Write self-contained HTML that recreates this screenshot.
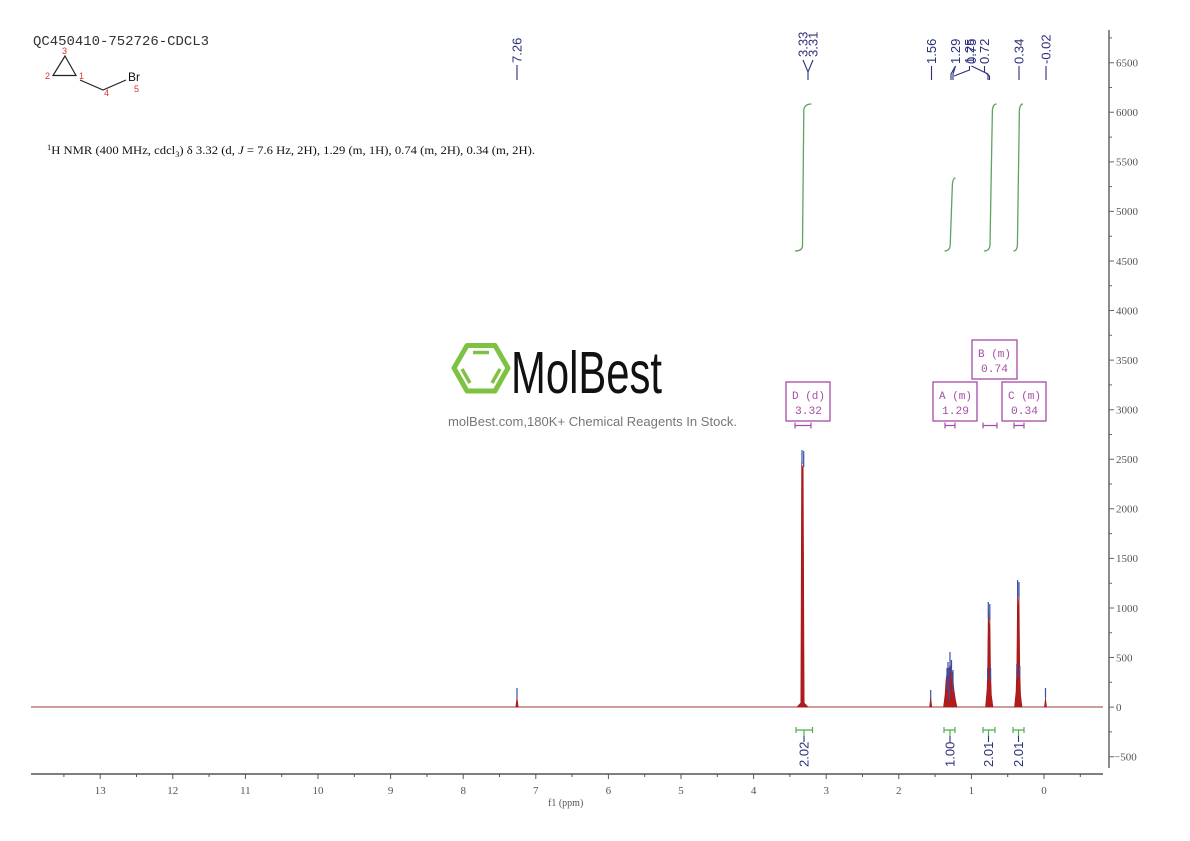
<!DOCTYPE html>
<html><head><meta charset="utf-8"><style>
html,body{margin:0;padding:0;background:#fff;}
svg{display:block;}
</style></head><body>
<svg width="1190" height="841" viewBox="0 0 1190 841" xmlns="http://www.w3.org/2000/svg">
<rect width="1190" height="841" fill="#fff"/>
<!-- title -->
<text x="33" y="45" font-family="Liberation Mono, monospace" font-size="14" fill="#333" textLength="176" lengthAdjust="spacingAndGlyphs">QC450410-752726-CDCL3</text>
<!-- structure -->
<g stroke="#222" stroke-width="1.2" fill="none">
<path d="M65,56 L53,75.5 L76,75.5 Z"/>
<path d="M80,80 L103,90 L126,80"/>
</g>
<g font-family="Liberation Sans, sans-serif" font-size="9" fill="#d33">
<text x="62" y="54">3</text><text x="45" y="79">2</text><text x="79" y="79">1</text><text x="104" y="96">4</text><text x="134" y="92">5</text>
</g>
<text x="128" y="81" font-family="Liberation Sans, sans-serif" font-size="12" fill="#111">Br</text>
<!-- NMR description -->
<text x="47" y="154" font-family="Liberation Serif, serif" font-size="12" fill="#111" textLength="488" lengthAdjust="spacingAndGlyphs"><tspan font-size="8" dy="-4">1</tspan><tspan dy="4">H NMR (400 MHz, cdcl</tspan><tspan font-size="8" dy="3">3</tspan><tspan dy="-3">) δ 3.32 (d, </tspan><tspan font-style="italic">J</tspan><tspan> = 7.6 Hz, 2H), 1.29 (m, 1H), 0.74 (m, 2H), 0.34 (m, 2H).</tspan></text>

<!-- logo -->
<g fill="none" stroke="#7dc242" stroke-linejoin="round">
<path d="M454,368 L467,345.5 L495,345.5 L508,368 L495,391 L467,391 Z" stroke-width="5"/>
<path d="M473,352.5 L489,352.5" stroke-width="3.5"/>
<path d="M462,369 L470,383" stroke-width="3.5"/>
<path d="M500,369 L492,383" stroke-width="3.5"/>
</g>
<text x="511" y="393" font-family="Liberation Sans, sans-serif" font-size="59" fill="#111" textLength="151" lengthAdjust="spacingAndGlyphs">MolBest</text>
<text x="448" y="426" font-family="Liberation Sans, sans-serif" font-size="12.5" fill="#777" textLength="289" lengthAdjust="spacingAndGlyphs">molBest.com,180K+ Chemical Reagents In Stock.</text>

<!-- multiplet boxes -->
<g fill="#fff" stroke="#a64ca6" stroke-width="1.3">
<rect x="786" y="382" width="44" height="39"/>
<rect x="933" y="382" width="44" height="39"/>
<rect x="972" y="340" width="45" height="39"/>
<rect x="1002" y="382" width="44" height="39"/>
</g>
<g font-family="Liberation Mono, monospace" font-size="11" fill="#a64ca6">
<text x="792" y="399" textLength="33" lengthAdjust="spacingAndGlyphs">D (d)</text>
<text x="795" y="414" textLength="27" lengthAdjust="spacingAndGlyphs">3.32</text>
<text x="939" y="399" textLength="33" lengthAdjust="spacingAndGlyphs">A (m)</text>
<text x="942" y="414" textLength="27" lengthAdjust="spacingAndGlyphs">1.29</text>
<text x="978" y="357" textLength="33" lengthAdjust="spacingAndGlyphs">B (m)</text>
<text x="981" y="372" textLength="27" lengthAdjust="spacingAndGlyphs">0.74</text>
<text x="1008" y="399" textLength="33" lengthAdjust="spacingAndGlyphs">C (m)</text>
<text x="1011" y="414" textLength="27" lengthAdjust="spacingAndGlyphs">0.34</text>
</g>
<g stroke="#a64ca6" stroke-width="1.2" fill="none">
<path d="M795,425.5 H811 M795,422.5 V428.5 M811,422.5 V428.5"/>
<path d="M945,425.5 H955 M945,422.5 V428.5 M955,422.5 V428.5"/>
<path d="M983,425.5 H997 M983,422.5 V428.5 M997,422.5 V428.5"/>
<path d="M1014,425.5 H1024 M1014,422.5 V428.5 M1024,422.5 V428.5"/>
</g>

<!-- integral curves -->
<g stroke="#5fa35f" stroke-width="1.3" fill="none">
<path d="M795,251 Q802,251 802.5,246 L803.8,110 Q804.5,104 811.5,104"/>
<path d="M944.5,251 Q949.8,251 950.2,245 L952.4,184 Q953,178 955.5,178"/>
<path d="M984,251 Q989.5,251 990,245 L992.4,110 Q993,104 996.5,104"/>
<path d="M1013.5,251 Q1017,251 1017.4,245 L1019.4,110 Q1020,104 1023,104"/>
</g>

<!-- top peak labels -->
<g font-family="Liberation Sans, sans-serif" font-size="13" fill="#2b2f7a">
<text transform="translate(521.5,63) rotate(-90)">7.26</text>
<text transform="translate(807.5,57) rotate(-90)">3.33</text>
<text transform="translate(817.5,57) rotate(-90)">3.31</text>
<text transform="translate(936,64) rotate(-90)">1.56</text>
<text transform="translate(960,64) rotate(-90)">1.29</text>
<text transform="translate(974,64) rotate(-90)">1.25</text>
<text transform="translate(976,64) rotate(-90)">0.75</text>
<text transform="translate(989,64) rotate(-90)">0.72</text>
<text transform="translate(1023.5,64) rotate(-90)">0.34</text>
<text transform="translate(1050.5,64) rotate(-90)">-0.02</text>
</g>
<g stroke="#2b2f7a" stroke-width="1.1" fill="none">
<path d="M517,65 V80"/>
<path d="M803,60 L808,72 L813,60 M808,72 V80"/>
<path d="M931.5,66 V80"/>
<path d="M955.5,66 L951,74 V80 M955.5,66 L953,74 V80"/>
<path d="M969.5,66 L969.5,70 L954,76 M971.5,66 L988,74 V80 M984.5,66 L984.5,72 L989.5,76 V80"/>
<path d="M1019,66 V80"/>
<path d="M1046,66 V80"/>
</g>

<!-- right axis -->
<g stroke="#666" stroke-width="1.5" fill="none">
<path d="M1109,30 V768"/>
</g>
<g stroke="#666" stroke-width="1">
<path d="M1109,37.9 h3 M1109,87.5 h3 M1109,137.1 h3 M1109,186.6 h3 M1109,236.2 h3 M1109,285.8 h3 M1109,335.3 h3 M1109,384.9 h3 M1109,434.5 h3 M1109,484 h3 M1109,533.6 h3 M1109,583.2 h3 M1109,632.7 h3 M1109,682.3 h3 M1109,731.9 h3"/>
<path d="M1109,62.7 h5 M1109,112.3 h5 M1109,161.9 h5 M1109,211.4 h5 M1109,261 h5 M1109,310.5 h5 M1109,360.1 h5 M1109,409.7 h5 M1109,459.3 h5 M1109,508.8 h5 M1109,558.4 h5 M1109,608 h5 M1109,657.5 h5 M1109,707.1 h5 M1109,756.7 h5"/>
</g>
<g font-family="Liberation Serif, serif" font-size="11" fill="#555">
<text x="1116" y="66.5">6500</text>
<text x="1116" y="116">6000</text>
<text x="1116" y="165.6">5500</text>
<text x="1116" y="215.2">5000</text>
<text x="1116" y="264.8">4500</text>
<text x="1116" y="314.3">4000</text>
<text x="1116" y="363.9">3500</text>
<text x="1116" y="413.5">3000</text>
<text x="1116" y="463">2500</text>
<text x="1116" y="512.6">2000</text>
<text x="1116" y="562.2">1500</text>
<text x="1116" y="611.8">1000</text>
<text x="1116" y="661.3">500</text>
<text x="1116" y="710.9">0</text>
<text x="1114" y="760.5">−500</text>
</g>

<!-- bottom axis -->
<path d="M31,774 H1103" stroke="#555" stroke-width="1.5"/>
<g stroke="#555" stroke-width="1">
<path d="M1044,774 v5 M971.4,774 v5 M898.8,774 v5 M826.2,774 v5 M753.6,774 v5 M681,774 v5 M608.4,774 v5 M535.8,774 v5 M463.2,774 v5 M390.6,774 v5 M318,774 v5 M245.4,774 v5 M172.8,774 v5 M100.2,774 v5"/>
<path d="M1080.3,774 v3 M1007.7,774 v3 M935.1,774 v3 M862.5,774 v3 M789.9,774 v3 M717.3,774 v3 M644.7,774 v3 M572.1,774 v3 M499.5,774 v3 M426.9,774 v3 M354.3,774 v3 M281.7,774 v3 M209.1,774 v3 M136.5,774 v3 M63.9,774 v3"/>
</g>
<g font-family="Liberation Serif, serif" font-size="11" fill="#555" text-anchor="middle">
<text x="1044" y="794">0</text><text x="971.4" y="794">1</text><text x="898.8" y="794">2</text><text x="826.2" y="794">3</text>
<text x="753.6" y="794">4</text><text x="681" y="794">5</text><text x="608.4" y="794">6</text><text x="535.8" y="794">7</text>
<text x="463.2" y="794">8</text><text x="390.6" y="794">9</text><text x="318" y="794">10</text><text x="245.4" y="794">11</text>
<text x="172.8" y="794">12</text><text x="100.2" y="794">13</text>
</g>
<text x="548" y="806" font-family="Liberation Serif, serif" font-size="10" fill="#555">f1 (ppm)</text>

<!-- spectrum baseline -->
<path d="M31,707 H1103" stroke="#9b3a3a" stroke-width="1"/>
<!-- peaks -->
<g fill="#b01c1c" stroke="#a01818" stroke-width="0.6" stroke-linejoin="round">
<path d="M797,707 L800.8,703 L801.6,462 L802.4,470 L803.2,465 L804.2,703 L808,707 Z"/>
<path d="M515.8,707 L517,697 L518.2,707 Z"/>
<path d="M929.6,707 L930.7,697 L931.8,707 Z"/>
<path d="M1044.4,707 L1045.5,698 L1046.6,707 Z"/>
<path d="M943.5,707 L945,695 L946,680 L947,672 L948,666 L949,670 L950,664 L951,668 L952,672 L953,680 L954,690 L955.5,700 L957,707 Z"/>
<path d="M985.5,707 L987,690 L987.6,672 L988.3,606 L989.1,640 L989.8,609 L990.6,672 L991.4,695 L993,707 Z"/>
<path d="M1014.5,707 L1016,692 L1016.8,668 L1017.6,584 L1018.3,620 L1019,588 L1019.8,670 L1020.6,695 L1022,707 Z"/>
</g>
<!-- blue peak markers -->
<g stroke="#3a4fa8" stroke-width="1.2">
<path d="M802,450 V464 M803.7,451 V467"/>
<path d="M517,688 V698"/>
<path d="M930.7,690 V700"/>
<path d="M1045.5,688 V698"/>
<path d="M950,652 V672 M948,662 V676 M951.5,660 V680 M947,668 V690 M953,670 V692 M949,670 V700"/>
<path d="M988.3,602 V618 M989.8,604 V620 M987.6,668 V680 M990.6,668 V680"/>
<path d="M1017.6,580 V596 M1019,582 V598 M1016.8,664 V676 M1019.8,666 V678"/>
</g>

<!-- integral bottom brackets -->
<g stroke="#4caf50" stroke-width="1.2" fill="none">
<path d="M796,730 H812.5 M796,727 V733 M812.5,727 V733 M804,730 V736"/>
<path d="M944,730 H955 M944,727 V733 M955,727 V733 M950,730 V736"/>
<path d="M983,730 H995 M983,727 V733 M995,727 V733 M988.5,730 V736"/>
<path d="M1013,730 H1024 M1013,727 V733 M1024,727 V733 M1018.5,730 V736"/>
</g>
<g stroke="#2b2f7a" stroke-width="1.1">
<path d="M804,736 V742 M950,736 V742 M988.5,736 V742 M1018.5,736 V742"/>
</g>
<g font-family="Liberation Sans, sans-serif" font-size="13" fill="#2b2f7a">
<text transform="translate(808.5,767) rotate(-90)">2.02</text>
<text transform="translate(954.5,767) rotate(-90)">1.00</text>
<text transform="translate(993,767) rotate(-90)">2.01</text>
<text transform="translate(1023,767) rotate(-90)">2.01</text>
</g>
</svg>
</body></html>
